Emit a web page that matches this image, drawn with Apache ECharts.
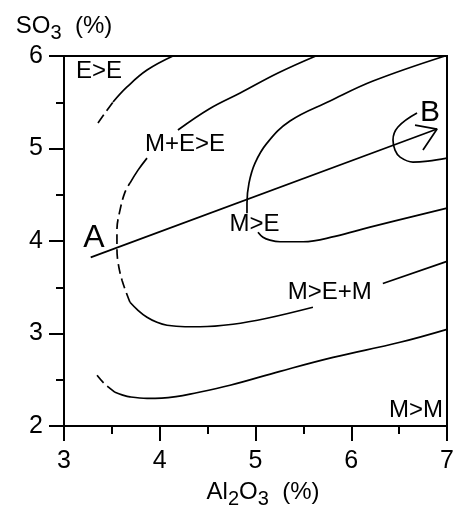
<!DOCTYPE html>
<html>
<head>
<meta charset="utf-8">
<script src="https://cdn.jsdelivr.net/npm/echarts@6/dist/echarts.min.js"></script>
<style>
  html, body { margin: 0; padding: 0; background: #fff; }
  #chart { width: 454px; height: 506px; }
</style>
</head>
<body>
<div id="chart"></div>
<script>
// axis ticks
const xTicks = [3, 4, 5, 6, 7];
const yTicks = [2, 3, 4, 5, 6];

// E>E boundary (top left)
const eeDashed = [[3.355, 5.275], [3.428, 5.383], [3.512, 5.502]];
const eeSolid = [[3.512, 5.502], [3.658, 5.665], [3.867, 5.848], [4.138, 6.0]];

// M+E>E / M>E+M boundary
const meUpper = [[4.19, 5.20], [4.52, 5.43], [4.84, 5.60], [5.235, 5.816], [5.63, 6.0]];
const meMid = [[3.689, 4.626], [3.773, 4.766], [3.867, 4.896]];
const meDashed = [[3.689, 3.338], [3.606, 3.576], [3.564, 3.771], [3.553, 3.922], [3.553, 4.117], [3.585, 4.333], [3.637, 4.528], [3.689, 4.626]];
const meLower = [[3.689, 3.338], [3.773, 3.251], [3.867, 3.175], [3.971, 3.121], [4.076, 3.089], [4.264, 3.073], [4.42, 3.073], [4.765, 3.10], [5.12, 3.165], [5.60, 3.284]];
const meRight = [[6.33, 3.54], [7.0, 3.78]];

// M>E region boundary
const mUpper = [[4.911, 4.301], [4.911, 4.409], [4.932, 4.626], [4.995, 4.842], [5.12, 5.058], [5.36, 5.297], [5.778, 5.513], [6.227, 5.729], [6.979, 6.0]];
const mLower = [[5.026, 4.095], [5.078, 4.041], [5.151, 4.009], [5.256, 3.992], [5.496, 3.992], [5.83, 4.05], [6.196, 4.15], [7.0, 4.355]];

// loop near B
const bLoop = [[6.687, 5.383], [6.488, 5.232], [6.436, 5.091], [6.457, 4.983], [6.51, 4.907], [6.645, 4.853], [6.80, 4.864], [7.0, 4.896]];

// M>M boundary (bottom)
const mmDashed = [[3.345, 2.548], [3.418, 2.461], [3.48, 2.407], [3.533, 2.364]];
const mmSolid = [[3.533, 2.364], [3.606, 2.337], [3.689, 2.315], [3.867, 2.299], [4.02, 2.302], [4.17, 2.318], [4.316, 2.345], [4.734, 2.44], [5.256, 2.591], [5.81, 2.742], [6.509, 2.905], [7.0, 3.045]];

// path A -> B
const abLine = [[3.279, 3.823], [6.896, 5.21]];
const arrowHead = [[6.666, 5.253], [6.896, 5.21], [6.749, 4.983]];

// text labels
const regionNames = ['E>E', 'M+E>E', 'M>E', 'M>E+M', 'M>M'];
const regionPos = [[3.366, 5.83], [4.264, 5.048], [4.99, 4.18], [5.775, 3.44], [6.676, 2.169]];
const pointNames = ['A', 'B'];
const pointPos = [[3.313, 4.03], [6.822, 5.389]];

const FONT = "'Liberation Sans', Arial, sans-serif";

function curve(data, dashed, smooth) {
  return {
    type: 'line',
    data: data,
    symbol: 'none',
    smooth: smooth === undefined ? 0.4 : smooth,
    silent: true,
    lineStyle: { color: '#000', width: 1.7, type: dashed ? [10, 5] : 'solid' }
  };
}

const labelData = regionNames.map((n, i) => ({ name: n, value: regionPos[i] }))
  .concat(pointNames.map((n, i) => ({
    name: n, value: pointPos[i],
    label: { fontSize: i === 0 ? 32 : 30 }
  })));

const subRich = {
  n: { fontSize: 24, color: '#000', fontFamily: FONT, verticalAlign: 'top' },
  s: { fontSize: 20, color: '#000', fontFamily: FONT, verticalAlign: 'top', padding: [9, 0, 0, 0] }
};

const chart = echarts.init(document.getElementById('chart'));

chart.setOption({
  animation: false,
  backgroundColor: '#fff',
  grid: {
    left: 64, right: 7, top: 56, bottom: 80,
    outerBoundsMode: 'none', containLabel: false,
    show: true, borderColor: '#000', borderWidth: 2
  },
  xAxis: {
    type: 'value', min: xTicks[0], max: xTicks[xTicks.length - 1], interval: 1,
    axisLine: { lineStyle: { color: '#000', width: 2 } },
    axisTick: { length: 15, lineStyle: { color: '#000', width: 2 } },
    minorTick: { show: true, splitNumber: 2, length: 8, lineStyle: { color: '#000', width: 2 } },
    splitLine: { show: false },
    axisLabel: { color: '#000', fontSize: 25, fontFamily: FONT, margin: 23 },
    name: '{n|Al}{s|2}{n|O}{s|3}{n|  (%)}',
    nameLocation: 'middle',
    nameGap: 54,
    nameTextStyle: { padding: [0, 0, 0, 15], rich: subRich }
  },
  yAxis: {
    type: 'value', min: yTicks[0], max: yTicks[yTicks.length - 1], interval: 1,
    axisLine: { lineStyle: { color: '#000', width: 2 } },
    axisTick: { length: 15, lineStyle: { color: '#000', width: 2 } },
    minorTick: { show: true, splitNumber: 2, length: 8, lineStyle: { color: '#000', width: 2 } },
    splitLine: { show: false },
    axisLabel: { color: '#000', fontSize: 25, fontFamily: FONT, margin: 21 },
    name: '{n|SO}{s|3}{n|  (%)}',
    nameLocation: 'end',
    nameGap: 12,
    nameTextStyle: { rich: subRich }
  },
  series: [
    curve(eeSolid, false),
    curve(eeDashed, true),
    curve(meUpper, false),
    curve(meMid, false),
    curve(meDashed, true),
    curve(meLower, false),
    curve(meRight, false, false),
    curve(mUpper, false),
    curve(mLower, false),
    curve(bLoop, false),
    curve(mmDashed, true),
    curve(mmSolid, false),
    curve(abLine, false, false),
    curve(arrowHead, false, false),
    {
      type: 'scatter',
      silent: true,
      symbolSize: 0,
      itemStyle: { color: '#000', opacity: 1 },
      label: {
        show: true, position: 'inside', formatter: p => p.name,
        color: '#000', fontSize: 24, fontFamily: FONT, textBorderWidth: 0, opacity: 1
      },
      data: labelData
    }
  ]
});
</script>
</body>
</html>
